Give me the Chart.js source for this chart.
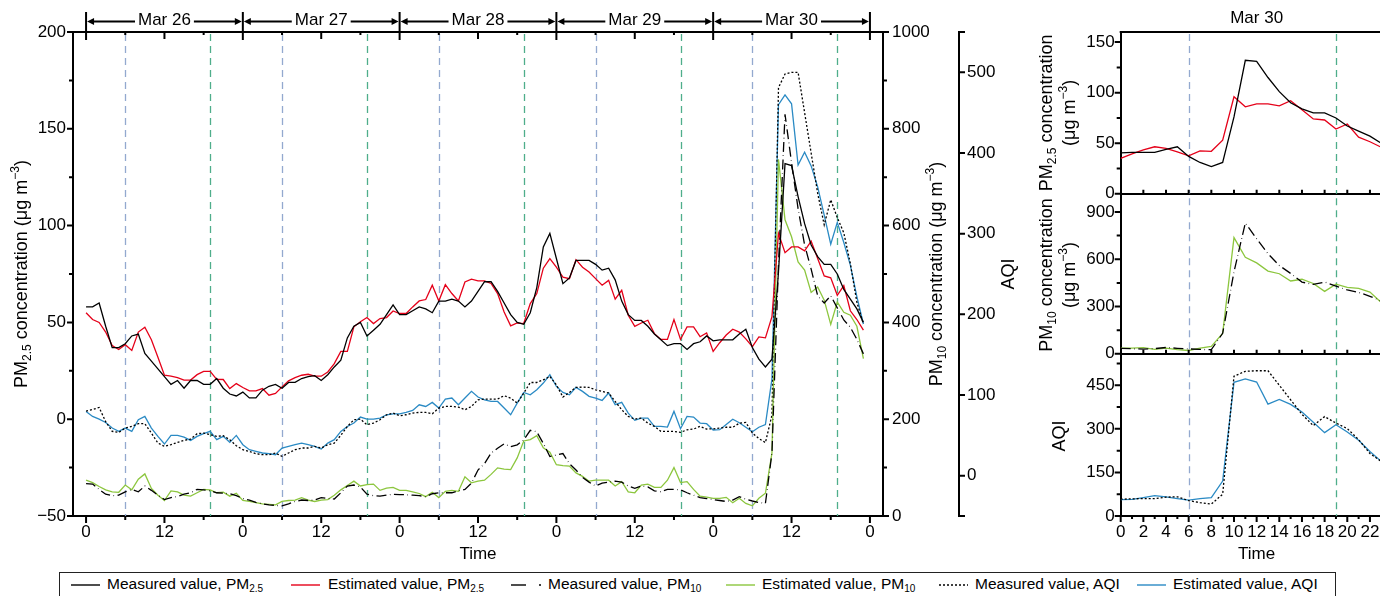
<!DOCTYPE html>
<html>
<head>
<meta charset="utf-8">
<script src="https://cdn.jsdelivr.net/npm/chart.js@4.4.1/dist/chart.umd.min.js"></script>
<style>
  html, body { margin: 0; padding: 0; background: #fff; overflow: hidden; }
  #wrap { position: relative; width: 1380px; height: 596px; overflow: hidden; font-family: "Liberation Sans", Arial, sans-serif; }
  canvas { position: absolute; }
  #legend { position: absolute; left: 59px; top: 572px; width: 1277px; height: 32px; border: 1px solid #222; box-sizing: border-box; }
  #legend svg { position: absolute; left: 0; top: 0; }
  #legend span { position: absolute; top: 2px; font-size: 15.5px; line-height: 18px; white-space: nowrap; color: #000; }
  #legend sub { font-size: 10px; vertical-align: -3px; line-height: 0; }
</style>
</head>
<body>
<div id="wrap">
  <canvas id="main" width="1030" height="560" style="left:0;top:0"></canvas>
  <canvas id="p1" width="400" height="210" style="left:1030px;top:0"></canvas>
  <canvas id="p2" width="400" height="190" style="left:1030px;top:180px"></canvas>
  <canvas id="p3" width="400" height="230" style="left:1030px;top:340px"></canvas>
  <div id="legend">
    <svg width="1277" height="30">
      <line x1="11" y1="12" x2="40" y2="12" stroke="#000" stroke-width="1.4"/>
      <line x1="231" y1="12" x2="260" y2="12" stroke="#e50019" stroke-width="1.4"/>
      <line x1="451" y1="12" x2="466" y2="12" stroke="#000" stroke-width="1.4"/>
      <line x1="479" y1="12" x2="481" y2="12" stroke="#000" stroke-width="1.4"/>
      <line x1="666" y1="12" x2="695" y2="12" stroke="#8cc63e" stroke-width="1.4"/>
      <line x1="879" y1="12" x2="908" y2="12" stroke="#000" stroke-width="1.4" stroke-dasharray="2,2"/>
      <line x1="1077" y1="12" x2="1106" y2="12" stroke="#2a8ac4" stroke-width="1.4"/>
    </svg>
    <span style="left:47px">Measured value, PM<sub>2.5</sub></span>
    <span style="left:268px">Estimated value, PM<sub>2.5</sub></span>
    <span style="left:488px">Measured value, PM<sub>10</sub></span>
    <span style="left:702px">Estimated value, PM<sub>10</sub></span>
    <span style="left:915px">Measured value, AQI</span>
    <span style="left:1113px">Estimated value, AQI</span>
  </div>
</div>
<script>
// hourly values, Mar 26 00:00 to Mar 30 23:00
const measuredPM25 = [
  58, 58, 60, 48, 37, 37, 39, 43, 44, 34, 30, 26, 22, 18, 20, 16, 20, 20, 18, 18, 21, 16, 13, 12,
  14, 11, 11, 15, 17, 18, 16, 19, 19, 21, 22, 22.5, 20, 23, 27, 30.5, 42, 48, 50, 43, 46, 49, 54, 59,
  54, 54, 56, 58, 57, 55, 61, 61, 62, 61, 58, 61, 66, 71, 71, 66, 60, 54, 50, 49, 55, 68, 89, 96,
  83, 70, 73, 82, 82, 82, 80, 77, 78, 72, 61, 54, 51, 51, 48, 44, 41, 38, 39, 39, 36, 39, 40, 43,
  40.5, 41, 41, 41, 44, 46.5, 37, 31, 27, 31, 76, 132, 131, 115, 101, 90, 84, 80, 80, 75, 67, 62, 57, 50
];
const estimatedPM25 = [
  55, 51.5, 50, 45, 38, 36, 38.5, 35.5, 45, 47.5, 41, 32, 22.7, 22.2, 21.5, 20.2, 20.2, 23, 24.7, 24.7, 20.6, 20.5, 15.8, 18.4,
  16.4, 14.6, 14.6, 15.8, 12.4, 13.3, 16.7, 19.8, 21.5, 22.7, 23.2, 22.2, 22.2, 24.4, 28.7, 35, 35, 47.7, 50.3, 52.5, 49.4, 52, 52.5, 55.9,
  54.6, 54.6, 58, 61.1, 61.8, 69.2, 61.1, 69.5, 64.9, 61.1, 70.9, 72.3, 71.5, 71.5, 70.1, 64.9, 55.4, 48.2, 49.7, 49.4, 59.7, 64.9, 78, 83,
  78.5, 73.4, 72.6, 82.4, 78.5, 76, 72.6, 69.2, 71.7, 62, 66.6, 53.7, 48, 49.7, 51.1, 44.2, 41.2, 41.2, 51.5, 41.2, 47.7, 47.7, 42.6, 44.6,
  35, 39.5, 43.5, 46.5, 45, 41.5, 37.5, 42.5, 42, 53, 96, 86, 89, 89, 87, 92, 83, 74, 73, 64, 69, 56, 51.5, 46
];
const measuredPM10 = [
  67, 66, 55, 45, 42, 43, 50, 55, 50, 62, 53, 43, 34, 38, 40, 45, 48, 55, 54, 52, 48, 47, 46, 42,
  36, 33, 28, 25, 23, 22, 21, 25, 30, 33, 32, 33, 38, 36, 35, 48, 62, 64, 60, 45, 42, 41, 43, 45,
  44, 44, 43, 42, 40, 46, 48, 48, 48, 52, 55, 68, 95, 108, 130, 140, 149, 143, 147, 157, 177, 174, 150, 123,
  126, 129, 108, 95, 80, 70, 62, 68, 70, 72, 70, 62, 57, 62, 60, 52, 50, 55, 55, 54, 48, 43, 38, 36,
  34, 32, 30, 33, 40, 35, 31, 28, 26, 130, 520, 830, 730, 635, 560, 510, 455, 440, 455, 430, 405, 390, 365, 335
];
const estimatedPM10 = [
  74, 69, 61, 54, 50, 49, 64, 54, 76, 87, 57, 43, 32, 52, 50, 43, 41, 48, 55, 54, 48, 49, 41, 47,
  32, 30, 27.5, 25, 24, 23, 30, 32, 33, 38, 33, 30, 33, 34, 43, 54, 63, 72, 62, 65, 66, 53, 57.5, 59,
  53, 53, 50, 46.5, 40, 49, 38, 51, 53, 51, 81, 68.5, 72, 74, 86, 99.5, 97, 96, 120, 155, 158, 166, 141, 132,
  106, 104, 103, 89, 82, 72, 74, 74, 74, 62, 71, 50, 48, 64, 66, 59, 59, 74, 100, 69, 71, 55, 41, 39,
  36.5, 36.5, 38.6, 27.5, 36.5, 26, 21, 36.5, 47, 130, 737, 612, 577, 525, 508, 462, 473, 446, 396, 442, 421, 415, 392, 325
];
const measuredAQI = [
  80, 82, 84.5, 67, 55, 53.6, 59, 61, 64.4, 64.4, 52.8, 40.4, 36.3, 38.4, 41.3, 43.7, 45.4, 52, 52.8, 50.7, 48.7, 49.5, 44.6, 37.1,
  32.2, 30.1, 27.2, 26, 26, 28.1, 23.9, 28.1, 32.2, 34.3, 34.3, 36.3, 34.3, 38.4, 40.4, 50, 61, 69.3, 70.1, 63.1, 65.2, 69.3, 75.5, 77.6,
  74.3, 75.5, 77.6, 78.4, 78.4, 76.7, 83.8, 85.8, 85.8, 85, 81.7, 85.8, 94.1, 95, 95, 95, 99.1, 96.2, 90, 102.3, 115.5, 115.5, 118.8, 123,
  112.6, 97.5, 103.2, 109.4, 109.8, 109.4, 106.5, 104.5, 102.5, 92, 81.7, 73.5, 70.1, 71.4, 65.2, 61.1, 54.9, 54.9, 54.9, 53.6, 56.9, 57.8, 61.1, 57.8,
  58, 59, 60, 60, 65, 66, 53, 46, 41, 75, 481, 498, 500, 500, 450, 400, 350, 311, 342, 320, 301, 263, 215, 188
];
const estimatedAQI = [
  79.6, 73.4, 70.1, 66, 59, 54.9, 59, 54.9, 69.3, 73.4, 59, 48.7, 39.2, 49.9, 49.9, 47.8, 43.7, 48.7, 52, 54.9, 44.6, 48.7, 41.3, 49.9,
  38.4, 32.2, 30.1, 28.1, 27.2, 26, 34.3, 36.3, 38.4, 40.4, 38.4, 36.3, 33, 40.4, 44.6, 54.9, 61, 65.2, 72.6, 70.1, 70.1, 71.4, 75.5, 76.7,
  76.7, 78.4, 80.9, 87.9, 85.8, 90.8, 83.8, 95, 96.2, 87.9, 96.2, 104.5, 97.5, 94.1, 92, 92, 83.8, 75.5, 90, 103.2, 100.3, 106.5, 114.8, 125.1,
  110.6, 103.2, 100.3, 109.4, 104.5, 98.3, 96.2, 93.3, 102.5, 88, 90.9, 77.6, 68.6, 71.4, 71.4, 61.1, 61.1, 60.3, 79.7, 58.2, 73.5, 72.6, 65.2, 64.4,
  56.6, 57, 63.4, 70, 65.6, 60, 54.5, 60, 63.4, 120, 460, 472, 461, 385, 401, 384, 358, 323, 287, 314, 289, 261, 222, 188
];

const dayLabels = ['Mar 26', 'Mar 27', 'Mar 28', 'Mar 29', 'Mar 30'];
const zoomDay = 'Mar 30';
const zoomStart = 96; // first hour of Mar 30 in the series

const mainHourTicks = [0, 12, 24, 36, 48, 60, 72, 84, 96, 108, 120];
const mainMinorHours = [6, 18, 30, 42, 54, 66, 78, 90, 102, 114];
const pm25Ticks = [-50, 0, 50, 100, 150, 200];
const pm25Minor = [-25, 25, 75, 125, 175];
const pm10Ticks = [0, 200, 400, 600, 800, 1000];
const pm10Minor = [100, 300, 500, 700, 900];
const aqiTicks = [0, 100, 200, 300, 400, 500];
const aqiEnds = [-50, 550];

const panelHourTicks = [0, 2, 4, 6, 8, 10, 12, 14, 16, 18, 20, 22, 24];
const panelOddHours = [1, 3, 5, 7, 9, 11, 13, 15, 17, 19, 21, 23];
const panelPM25Ticks = [0, 50, 100, 150];
const panelPM25Minor = [25, 75, 125];
const panelPM10Ticks = [0, 300, 600, 900];
const panelPM10Minor = [150, 450, 750];
const panelAQITicks = [0, 150, 300, 450];
const panelAQIMinor = [75, 225, 375, 525];

// dashed reference hours (06:00 and 19:00)
const morningHours = [6, 30, 54, 78, 102];
const eveningHours = [19, 43, 67, 91, 115];

const FONT = "'Liberation Sans', Arial, sans-serif";
const RED = '#e50019', GREEN = '#8cc63e', BLUE = '#2a8ac4';
const MORNING = '#93a9cf', EVENING = '#4fae8b';
const PM10_DASH = [10, 3.5, 0.6, 3.5];

Chart.defaults.font.family = FONT;
Chart.defaults.font.size = 17;
Chart.defaults.color = '#000';

function series(values, axis, color, dash) {
  return {
    data: values.map((v, i) => ({ x: i, y: v })),
    yAxisID: axis,
    borderColor: color,
    borderWidth: 1.3,
    borderDash: dash || [],
    pointRadius: 0,
    tension: 0,
    fill: false
  };
}

function fixedTicks(list) {
  return s => { s.ticks = list.map(v => ({ value: v })); };
}
function label(v) {
  return v < 0 ? '\u2212' + Math.abs(v) : String(v);
}

function richText(ctx, parts, x, y, size, rotate) {
  const small = Math.round(size * 0.66);
  ctx.save();
  ctx.translate(x, y);
  if (rotate) ctx.rotate(-Math.PI / 2);
  ctx.textBaseline = 'middle';
  ctx.textAlign = 'left';
  ctx.fillStyle = '#000';
  const fonts = parts.map(p => (p[1] ? small : size) + 'px ' + FONT);
  let total = 0;
  parts.forEach((p, i) => { ctx.font = fonts[i]; total += ctx.measureText(p[0]).width; });
  let cx = -total / 2;
  parts.forEach((p, i) => {
    ctx.font = fonts[i];
    const dy = p[1] === 'sub' ? size * 0.32 : p[1] === 'sup' ? -size * 0.36 : 0;
    ctx.fillText(p[0], cx, dy);
    cx += ctx.measureText(p[0]).width;
  });
  ctx.restore();
}

function tickMarks(ctx, scale, values, len, inward) {
  ctx.save();
  ctx.strokeStyle = '#000';
  ctx.lineWidth = 2;
  ctx.beginPath();
  values.forEach(v => {
    const p = scale.getPixelForValue(v);
    if (scale.position === 'left') {
      ctx.moveTo(scale.right, p); ctx.lineTo(scale.right - len, p);
    } else if (scale.position === 'right') {
      ctx.moveTo(scale.left, p); ctx.lineTo(scale.left + len, p);
    } else {
      ctx.moveTo(p, scale.top); ctx.lineTo(p, inward ? scale.top - len : scale.top + len);
    }
  });
  ctx.stroke();
  ctx.restore();
}

function markers(ctx, chart, hours, color) {
  const xs = chart.scales.x, a = chart.chartArea;
  ctx.save();
  ctx.strokeStyle = color;
  ctx.lineWidth = 1.3;
  ctx.setLineDash([7, 5]);
  hours.forEach(h => {
    const x = Math.round(xs.getPixelForValue(h)) + 0.5;
    ctx.beginPath(); ctx.moveTo(x, a.top + 2); ctx.lineTo(x, a.bottom); ctx.stroke();
  });
  ctx.restore();
}

const concTitle = sub => [['PM'], [sub, 'sub'], [' concentration (\u03bcg m'], ['\u22123', 'sup'], [')']];

const mainDecor = {
  id: 'mainDecor',
  beforeDatasetsDraw(chart) {
    markers(chart.ctx, chart, morningHours, MORNING);
    markers(chart.ctx, chart, eveningHours, EVENING);
  },
  afterDraw(chart) {
    const ctx = chart.ctx, s = chart.scales, a = chart.chartArea;
    tickMarks(ctx, s.y, pm25Ticks, 6);
    tickMarks(ctx, s.y, pm25Minor, 4);
    tickMarks(ctx, s.y1, pm10Ticks, 6);
    tickMarks(ctx, s.y1, pm10Minor, 4);
    tickMarks(ctx, s.y2, aqiTicks.concat(aqiEnds), 6);
    tickMarks(ctx, s.x, mainHourTicks, 7);
    tickMarks(ctx, s.x, mainMinorHours, 4);

    // top frame with inward ticks
    ctx.save();
    ctx.strokeStyle = '#000';
    ctx.fillStyle = '#000';
    ctx.lineWidth = 2;
    ctx.beginPath();
    ctx.moveTo(a.left - 1, a.top); ctx.lineTo(a.right + 1, a.top);
    mainHourTicks.forEach(h => {
      const x = s.x.getPixelForValue(h);
      if (h % 24 === 0) { ctx.moveTo(x, 12); ctx.lineTo(x, a.top + 8); }
      else { ctx.moveTo(x, a.top); ctx.lineTo(x, a.top + 7); }
    });
    mainMinorHours.forEach(h => {
      const x = s.x.getPixelForValue(h);
      ctx.moveTo(x, a.top); ctx.lineTo(x, a.top + 3);
    });
    ctx.stroke();

    // day spans with arrows
    ctx.font = '17px ' + FONT;
    ctx.textAlign = 'center';
    ctx.textBaseline = 'middle';
    const ay = 21.5;
    dayLabels.forEach((d, i) => {
      const x0 = s.x.getPixelForValue(i * 24), x1 = s.x.getPixelForValue(i * 24 + 24);
      const xm = (x0 + x1) / 2, w = ctx.measureText(d).width;
      ctx.beginPath();
      ctx.moveTo(x0 + 5, ay); ctx.lineTo(xm - w / 2 - 3, ay);
      ctx.moveTo(xm + w / 2 + 3, ay); ctx.lineTo(x1 - 5, ay);
      ctx.stroke();
      ctx.beginPath();
      ctx.moveTo(x0 + 1, ay); ctx.lineTo(x0 + 8, ay - 3.5); ctx.lineTo(x0 + 8, ay + 3.5); ctx.closePath();
      ctx.moveTo(x1 - 1, ay); ctx.lineTo(x1 - 8, ay - 3.5); ctx.lineTo(x1 - 8, ay + 3.5); ctx.closePath();
      ctx.fill();
      ctx.fillText(d, xm, 20);
    });
    ctx.fillText('Time', (a.left + a.right) / 2, 554);
    ctx.restore();

    const mid = (a.top + a.bottom) / 2;
    richText(ctx, concTitle('2.5'), 22, mid, 18, true);
    richText(ctx, concTitle('10'), 937, mid, 18, true);
    richText(ctx, [['AQI']], 1009, mid, 18, true);
  }
};

new Chart(document.getElementById('main'), {
  type: 'line',
  data: {
    datasets: [
      series(measuredPM25, 'y', '#000'),
      series(estimatedPM25, 'y', RED),
      series(measuredPM10, 'y1', '#000', PM10_DASH),
      series(estimatedPM10, 'y1', GREEN),
      series(measuredAQI, 'y2', '#000', [2, 2]),
      series(estimatedAQI, 'y2', BLUE)
    ]
  },
  options: {
    responsive: false,
    animation: false,
    devicePixelRatio: 1,
    layout: { padding: { top: 32, left: 0, right: 0, bottom: 0 } },
    plugins: { legend: { display: false }, tooltip: { enabled: false } },
    scales: {
      x: {
        type: 'linear', min: -2, max: 122,
        grid: { display: false, drawTicks: false },
        border: { display: true, color: '#000', width: 2 },
        ticks: { padding: 6, maxRotation: 0, autoSkip: false, callback: v => (v % 24 === 0 ? '0' : '12') },
        afterBuildTicks: fixedTicks(mainHourTicks),
        afterFit: s => { s.height = 44; }
      },
      y: {
        position: 'left', min: -50, max: 200,
        grid: { display: false, drawTicks: false },
        border: { display: true, color: '#000', width: 2 },
        ticks: { padding: 7, callback: label },
        afterBuildTicks: fixedTicks(pm25Ticks),
        afterFit: s => { s.width = 73; }
      },
      y1: {
        position: 'right', weight: 0, min: 0, max: 1000,
        grid: { display: false, drawTicks: false },
        border: { display: true, color: '#000', width: 2 },
        ticks: { padding: 9, callback: label },
        afterBuildTicks: fixedTicks(pm10Ticks),
        afterFit: s => { s.width = 76; }
      },
      y2: {
        position: 'right', weight: 1, min: -50, max: 550,
        grid: { display: false, drawTicks: false },
        border: { display: true, color: '#000', width: 2 },
        ticks: { padding: 8, callback: label },
        afterBuildTicks: fixedTicks(aqiTicks),
        afterFit: s => { s.width = 71; }
      }
    }
  },
  plugins: [mainDecor]
});

// Mar 30 detail panels
function panel(id, datasets, yMin, yMax, yTicks, yMinor, opts) {
  const decor = {
    id: 'panelDecor' + id,
    beforeDatasetsDraw(chart) {
      markers(chart.ctx, chart, [morningHours[0]], MORNING);
      markers(chart.ctx, chart, [eveningHours[0]], EVENING);
    },
    afterDraw(chart) {
      const ctx = chart.ctx, s = chart.scales, a = chart.chartArea;
      tickMarks(ctx, s.y, yTicks, 6);
      tickMarks(ctx, s.y, yMinor, 4);
      if (opts.bottom) {
        tickMarks(ctx, s.x, panelHourTicks, 6);
        tickMarks(ctx, s.x, panelOddHours, 3);
        ctx.save();
        ctx.font = '17px ' + FONT;
        ctx.textAlign = 'center';
        ctx.textBaseline = 'middle';
        ctx.fillStyle = '#000';
        ctx.fillText('Time', s.x.getPixelForValue(12), a.bottom + 38);
        ctx.restore();
      } else {
        tickMarks(ctx, s.x, panelHourTicks.slice(1, -1), 4, true);
      }
      if (opts.top) {
        ctx.save();
        ctx.strokeStyle = '#000';
        ctx.lineWidth = 2;
        ctx.beginPath(); ctx.moveTo(a.left - 1, a.top); ctx.lineTo(a.right, a.top); ctx.stroke();
        ctx.font = '17px ' + FONT;
        ctx.textAlign = 'center';
        ctx.textBaseline = 'middle';
        ctx.fillStyle = '#000';
        ctx.fillText(zoomDay, s.x.getPixelForValue(12), 18);
        ctx.restore();
      }
      const mid = (a.top + a.bottom) / 2;
      opts.title.forEach(t => richText(ctx, t[0], t[1], mid, 18, true));
    }
  };
  return new Chart(document.getElementById(id), {
    type: 'line',
    data: { datasets: datasets },
    options: {
      responsive: false,
      animation: false,
      devicePixelRatio: 1,
      layout: { padding: { top: opts.top ? 32 : 14, left: 0, right: 37.4, bottom: 0 } },
      plugins: { legend: { display: false }, tooltip: { enabled: false } },
      scales: {
        x: {
          type: 'linear', min: 0, max: 24,
          grid: { display: false, drawTicks: false },
          border: { display: true, color: '#000', width: 2 },
          ticks: { display: !!opts.bottom, padding: 6, maxRotation: 0, autoSkip: false, callback: label },
          afterBuildTicks: fixedTicks(panelHourTicks),
          afterFit: s => { s.height = opts.bottom ? 54 : 16; }
        },
        y: {
          position: 'left', min: yMin, max: yMax,
          grid: { display: false, drawTicks: false },
          border: { display: true, color: '#000', width: 2 },
          ticks: { padding: 6, callback: label },
          afterBuildTicks: fixedTicks(yTicks),
          afterFit: s => { s.width = 90.7; }
        }
      }
    },
    plugins: [decor]
  });
}

const unitLine = [['(\u03bcg m'], ['\u22123', 'sup'], [')']];

panel('p1', [
  series(measuredPM25.slice(zoomStart), 'y', '#000'),
  series(estimatedPM25.slice(zoomStart), 'y', RED)
], 0, 160, panelPM25Ticks, panelPM25Minor, {
  top: true,
  title: [[[['PM'], ['2.5', 'sub'], [' concentration']], 17], [unitLine, 40]]
});

panel('p2', [
  series(measuredPM10.slice(zoomStart), 'y', '#000', PM10_DASH),
  series(estimatedPM10.slice(zoomStart), 'y', GREEN)
], 0, 1000, panelPM10Ticks, panelPM10Minor, {
  title: [[[['PM'], ['10', 'sub'], [' concentration']], 17], [unitLine, 40]]
});

panel('p3', [
  series(measuredAQI.slice(zoomStart), 'y', '#000', [2, 2]),
  series(estimatedAQI.slice(zoomStart), 'y', BLUE)
], 0, 550, panelAQITicks, panelAQIMinor, {
  bottom: true,
  title: [[[['AQI']], 30]]
});
</script>
</body>
</html>
